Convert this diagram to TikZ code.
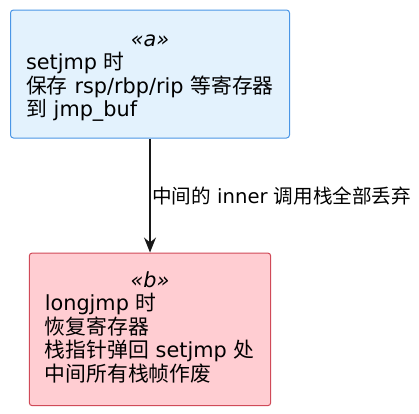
\documentclass[tikz,border=0pt]{standalone}
\usepackage{fontspec}
\setmainfont{DejaVu Sans}
\newfontfamily\cjk{Noto Sans CJK SC}
\newcommand{\zh}[1]{{\cjk #1}}
\usetikzlibrary{arrows.meta}
\definecolor{afill}{HTML}{E3F2FD}
\definecolor{adraw}{HTML}{4A96E6}
\definecolor{bfill}{HTML}{FFCDD2}
\definecolor{bdraw}{HTML}{D04A58}
\definecolor{flow}{HTML}{181818}

\begin{document}
\begin{tikzpicture}[x=1pt,y=-1pt,
  stagebox/.style={draw,line width=1pt,rounded corners=3pt,align=left,
    inner xsep=15.5pt,inner ysep=0pt,font=\fontsize{20.8}{23.4}\selectfont},
  flowline/.style={draw=flow,line width=1.4pt,-{Stealth[length=15pt,width=12pt,inset=5pt]}}]
\useasboundingbox (0,0) rectangle (419,413);
% setjmp
\node[stagebox,fill=afill,draw=adraw,text width=248pt,minimum height=128pt]
  (setj) at (150,74) {\rule{0pt}{36.5pt}\makebox[\hsize]{\itshape «a»}\\
  setjmp \zh{时}\\
  \mbox{\zh{保存} rsp/rbp/rip \zh{等寄存器}}\\
  \zh{到} jmp\_buf\rule[-21.3pt]{0pt}{21.3pt}};
% longjmp
\node[stagebox,fill=bfill,draw=bdraw,text width=210.4pt,minimum height=152.7pt]
  (longj) at (150,329.35) {\rule{0pt}{34.5pt}\makebox[\hsize]{\itshape «b»}\\
  longjmp \zh{时}\\
  \zh{恢复寄存器}\\
  \mbox{\zh{栈指针弹回} setjmp \zh{处}}\\
  \zh{中间所有栈帧作废}\rule[-24.6pt]{0pt}{24.6pt}};
\draw[flowline] (setj.south) -- node[right,inner xsep=1.5pt,font=\fontsize{19.6}{22}\selectfont]
  {\zh{中间的} inner \zh{调用栈全部丢弃}} (longj.north);
\end{tikzpicture}
\end{document}
